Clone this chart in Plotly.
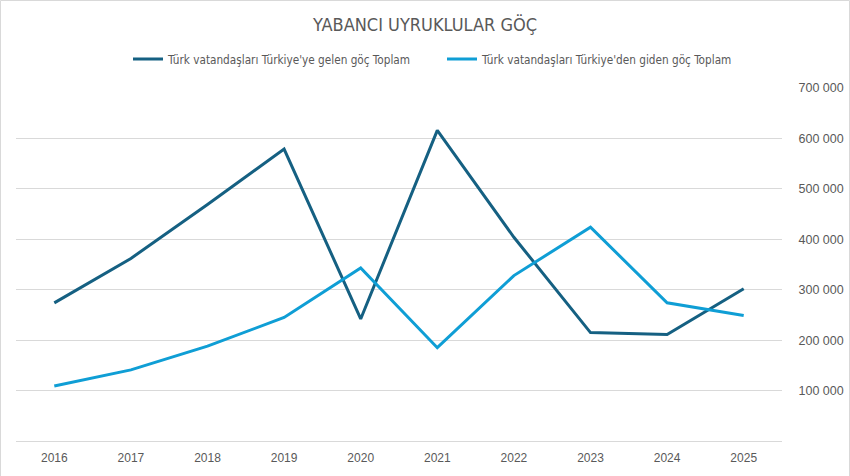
import plotly.graph_objects as go

years = ["2016", "2017", "2018", "2019", "2020", "2021", "2022", "2023", "2024", "2025"]
gelen = [274000, 362000, 469000, 579000, 242000, 616000, 404000, 215000, 211000, 302000]
giden = [109000, 141000, 188000, 245000, 343000, 185000, 328000, 424000, 274000, 249000]

name_gelen = "Türk vatandaşları Türkiye'ye gelen göç Toplam"
name_giden = "Türk vatandaşları Türkiye'den giden göç Toplam"
title_text = "YABANCI UYRUKLULAR GÖÇ"
y_ticks = [100000, 200000, 300000, 400000, 500000, 600000, 700000]

narrow = "DejaVu Sans Condensed, Liberation Sans Narrow, Liberation Sans, sans-serif"
grey = "#595959"

fig = go.Figure()
fig.add_trace(go.Scatter(x=years, y=gelen, mode="lines", name=name_gelen,
                         line=dict(color="#156082", width=3)))
fig.add_trace(go.Scatter(x=years, y=giden, mode="lines", name=name_giden,
                         line=dict(color="#0F9ED5", width=3)))

W, H = 850, 476
ml, mr, mt, mb = 16, 68, 88, 35
pw, ph = W - ml - mr, H - mt - mb

fig.update_layout(
    width=W, height=H,
    margin=dict(l=ml, r=mr, t=mt, b=mb, autoexpand=False),
    paper_bgcolor="white", plot_bgcolor="white",
    separators=", ",
    title=dict(text=title_text, x=0.5, xanchor="center", y=1 - 25 / H, yanchor="middle",
               font=dict(family=narrow, size=18, color=grey)),
    legend=dict(orientation="h", x=(128 - ml) / pw, xanchor="left", y=1 + (mt - 59) / ph, yanchor="middle",
                font=dict(family=narrow, size=11.7, color=grey), itemwidth=30,
                entrywidth=269, entrywidthmode="pixels",
                bgcolor="rgba(0,0,0,0)"),
    showlegend=True,
    xaxis=dict(type="category", range=[-0.5, 9.5], showgrid=False, showline=True,
               linecolor="#d9d9d9", linewidth=1, automargin=False,
               ticks="outside", ticklen=6, tickcolor="rgba(0,0,0,0)",
               tickfont=dict(family="Liberation Sans, Arial, sans-serif", size=12, color=grey),
               fixedrange=True),
    yaxis=dict(side="right", range=[0, 700000], tickvals=y_ticks, tickformat=",d",
               showgrid=True, gridcolor="#d9d9d9", gridwidth=1, zeroline=False, automargin=False,
               ticks="outside", ticklen=13, tickcolor="rgba(0,0,0,0)",
               tickfont=dict(family="Liberation Sans, Arial, sans-serif", size=12.5, color=grey),
               fixedrange=True),
)

# outer chart border
fig.add_shape(type="rect", xref="paper", yref="paper",
              x0=(0.5 - ml) / pw, x1=(W - 0.5 - ml) / pw,
              y0=(mb - H + 0.5) / ph + 0, y1=(H - 0.5 - mb) / ph,
              line=dict(color="#d9d9d9", width=1), fillcolor="rgba(0,0,0,0)", layer="below")

fig.write_html("out.html")
